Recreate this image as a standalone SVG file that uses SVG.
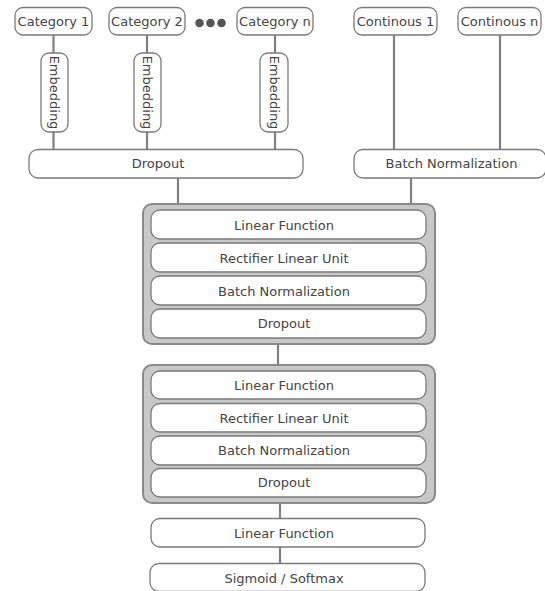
<svg xmlns="http://www.w3.org/2000/svg" width="545" height="591" viewBox="0 0 545 591">
<style>
.box{fill:#fff;stroke:#7a7a7a;stroke-width:1.3}
.blk{fill:#c8c8c8;stroke:#8a8a8a;stroke-width:2}
.t{font-family:"DejaVu Sans",sans-serif;font-size:13px;fill:#444;text-anchor:middle;dominant-baseline:central}
.c{stroke:#808080;stroke-width:2.2;fill:none}
</style>
<rect width="545" height="591" fill="#fff"/>
<g id="connectors">
<path class="c" d="M53.5 35V53M53.5 132V150"/>
<path class="c" d="M147 35V53M147 132V150"/>
<path class="c" d="M275 35V53M275 132V150"/>
<path class="c" d="M394 35V149M500 35V149"/>
<path class="c" d="M178 178V204M411 178V204"/>
<path class="c" d="M278 344V365"/>
<path class="c" d="M280 503V518M280 547V563"/>
</g>
<g id="cat1"><rect class="box" x="15" y="7.5" width="77" height="27.5" rx="8"/><text class="t" x="53.5" y="21.5">Category 1</text></g>
<g id="cat2"><rect class="box" x="109" y="7.5" width="76" height="27.5" rx="8"/><text class="t" x="147" y="21.5">Category 2</text></g>
<g id="dots" fill="#555"><circle cx="199.5" cy="23" r="4.3"/><circle cx="210.5" cy="23" r="4.3"/><circle cx="221.5" cy="23" r="4.3"/></g>
<g id="catn"><rect class="box" x="237" y="7.5" width="76" height="27.5" rx="8"/><text class="t" x="275" y="21.5">Category n</text></g>
<g id="cont1"><rect class="box" x="354" y="7.5" width="83" height="27.5" rx="8"/><text class="t" x="395.5" y="21.5">Continous 1</text></g>
<g id="contn"><rect class="box" x="458" y="7.5" width="83" height="27.5" rx="8"/><text class="t" x="499.5" y="21.5">Continous n</text></g>
<g id="emb1"><rect class="box" x="41" y="53" width="27" height="79" rx="8"/><text class="t" transform="translate(54.5 92.5) rotate(90)">Embedding</text></g>
<g id="emb2"><rect class="box" x="134" y="53" width="27" height="79" rx="8"/><text class="t" transform="translate(147.5 92.5) rotate(90)">Embedding</text></g>
<g id="emb3"><rect class="box" x="260" y="53" width="28" height="79" rx="8"/><text class="t" transform="translate(274 92.5) rotate(90)">Embedding</text></g>
<g id="dropout0"><rect class="box" x="29" y="149.5" width="274" height="28.5" rx="9"/><text class="t" x="158" y="163.5">Dropout</text></g>
<g id="bn0"><rect class="box" x="354" y="149.5" width="192" height="28.5" rx="9"/><text class="t" x="451.5" y="163.5">Batch Normalization</text></g>
<g id="block1">
<rect class="blk" x="143" y="204" width="292" height="140" rx="9"/>
<rect class="box" x="151" y="210" width="275" height="29" rx="9"/><text class="t" x="284" y="225">Linear Function</text>
<rect class="box" x="151" y="243" width="275" height="29" rx="9"/><text class="t" x="284" y="258">Rectifier Linear Unit</text>
<rect class="box" x="151" y="276" width="275" height="29" rx="9"/><text class="t" x="284" y="291">Batch Normalization</text>
<rect class="box" x="151" y="309" width="275" height="29" rx="9"/><text class="t" x="284" y="323">Dropout</text>
</g>
<g id="block2">
<rect class="blk" x="143" y="365" width="292" height="138" rx="9"/>
<rect class="box" x="151" y="371" width="275" height="28" rx="9"/><text class="t" x="284" y="385">Linear Function</text>
<rect class="box" x="151" y="403.5" width="275" height="28.5" rx="9"/><text class="t" x="284" y="418">Rectifier Linear Unit</text>
<rect class="box" x="151" y="436" width="275" height="29" rx="9"/><text class="t" x="284" y="450.5">Batch Normalization</text>
<rect class="box" x="151" y="468.5" width="275" height="28.5" rx="9"/><text class="t" x="284" y="482">Dropout</text>
</g>
<g id="linear"><rect class="box" x="151" y="518.5" width="274" height="28.5" rx="9"/><text class="t" x="284" y="533">Linear Function</text></g>
<g id="sigmoid"><rect class="box" x="150" y="563.5" width="275" height="28" rx="9"/><text class="t" x="284" y="578">Sigmoid / Softmax</text></g>
</svg>
